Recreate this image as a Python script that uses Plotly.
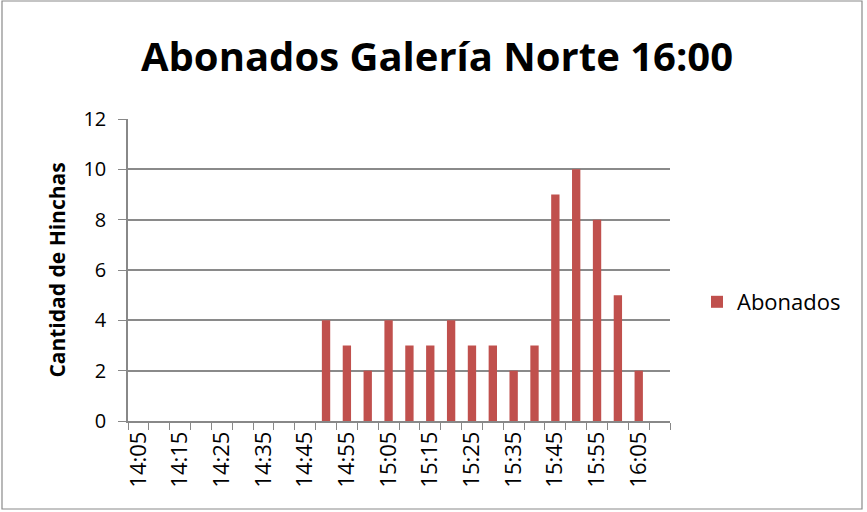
import plotly.graph_objects as go

# Five-minute time slots from 14:05 to 16:10
slots = ["14:05", "14:10", "14:15", "14:20", "14:25", "14:30", "14:35", "14:40",
         "14:45", "14:50", "14:55", "15:00", "15:05", "15:10", "15:15", "15:20",
         "15:25", "15:30", "15:35", "15:40", "15:45", "15:50", "15:55", "16:00",
         "16:05", "16:10"]
abonados = [None, None, None, None, None, None, None, None,
            None, 4, 3, 2, 4, 3, 3, 4,
            3, 3, 2, 3, 9, 10, 8, 5,
            2, None]
# Only every other slot gets a printed label
tick_text = [s if i % 2 == 0 else "" for i, s in enumerate(slots)]

FONT = "'Open Sans', Lato, sans-serif"
W, H = 867, 512
L, R, T, B = 128, 197, 119, 91
pw, ph = W - L - R, H - T - B

fig = go.Figure(go.Bar(
    x=slots, y=abonados, name="Abonados",
    marker=dict(color="#C0504D", line=dict(width=0)),
    showlegend=True,
))

fig.update_layout(
    width=W, height=H,
    margin=dict(l=L, r=R, t=T, b=B),
    paper_bgcolor="white", plot_bgcolor="white",
    font=dict(family=FONT, color="black"),
    bargap=0.6,
    title=dict(text="<b>Abonados Galería Norte 16:00</b>",
               font=dict(size=40, family=FONT, color="black"),
               x=437 / W, xref="container", xanchor="center",
               y=1 - 57 / H, yref="container", yanchor="middle"),
    legend=dict(x=(697 - L) / pw, xanchor="left", y=(H - 302 - B) / ph,
                yanchor="middle", font=dict(size=22, family=FONT),
                itemwidth=30, bgcolor="rgba(0,0,0,0)"),
    xaxis=dict(
        type="category", categoryorder="array", categoryarray=slots,
        tickmode="array", tickvals=slots, ticktext=tick_text,
        tickson="boundaries", ticks="outside", ticklen=7, tickcolor="#888",
        tickangle=-90, tickfont=dict(size=22, family=FONT),
        showline=True, linecolor="#888", linewidth=1.5,
        showgrid=False, range=[-0.5, len(slots) - 0.5],
    ),
    yaxis=dict(
        range=[0, 12], dtick=2, tick0=0,
        ticks="outside", ticklen=8, tickcolor="#888",
        ticklabelstandoff=8,
        tickfont=dict(size=20, family=FONT),
        showline=True, linecolor="#888", linewidth=1.5,
        showgrid=True, gridcolor="#8a8a8a", gridwidth=1.5,
        zeroline=False,
        title=dict(text="<b>Cantidad de Hinchas</b>",
                   font=dict(size=21, family=FONT), standoff=12),
    ),
)

# Chart frame around the whole canvas
fig.add_shape(type="rect", xref="paper", yref="paper",
              x0=(2 - L) / pw, x1=(862 - L) / pw,
              y0=(H - B - 509) / ph, y1=(H - B - 1) / ph,
              line=dict(color="#8a8a8a", width=1.2), layer="below")

fig.write_html("out.html")
